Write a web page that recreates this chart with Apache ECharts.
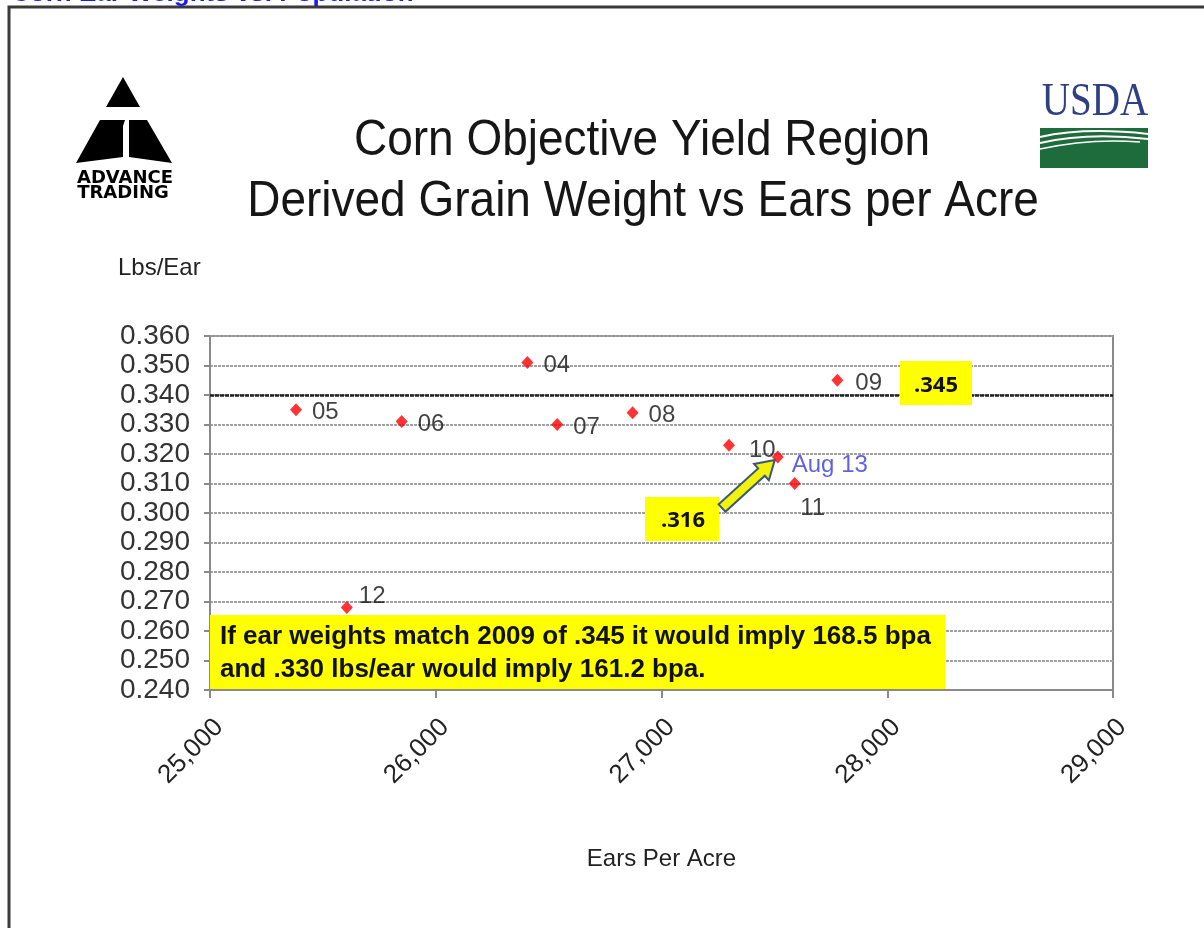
<!DOCTYPE html>
<html>
<head>
<meta charset="utf-8">
<script src="https://cdn.jsdelivr.net/npm/echarts@6/dist/echarts.min.js"></script>
<style>
html,body{margin:0;padding:0;background:#fff;}
#main{width:1204px;height:928px;}
</style>
</head>
<body>
<div id="main"></div>
<script>
// ---- data ----
const pointNames  = ['04', '05', '06', '07', '08', '09', '10', '11', '12', 'Aug 13'];
const earsPerAcre = [26406, 25381, 25849, 26538, 26872, 27779, 27299, 27590, 25606, 27515];
const lbsPerEar   = [0.351, 0.335, 0.331, 0.330, 0.334, 0.345, 0.323, 0.310, 0.268, 0.319];
const xMin = 25000, xMax = 29000, xStep = 1000;
const yMin = 0.240, yMax = 0.360, yStep = 0.010;
const refLine = 0.340;
const titleLines = ['Corn Objective Yield Region', 'Derived Grain Weight vs Ears per Acre'];
const noteText = ['If ear weights match 2009 of .345 it would imply 168.5 bpa', 'and .330 lbs/ear would imply 161.2 bpa.'];
const callout09 = '.345';
const calloutAug = '.316';

// ---- label styles per point ----
const labelStyle = {
  '10':     {offset: [4, 5]},
  '11':     {position: 'bottom', distance: 6, offset: [18, 0]},
  '12':     {offset: [-4, -11]},
  '09':     {offset: [2, 3]},
  'Aug 13': {offset: [-2, 8], color: '#3a3ad6'}
};

const data = pointNames.map((n, i) => {
  const item = {name: n, value: [earsPerAcre[i], lbsPerEar[i]]};
  if (labelStyle[n]) item.label = labelStyle[n];
  return item;
});

const chart = echarts.init(document.getElementById('main'), null, {renderer: 'canvas'});
const FONT = '"Liberation Sans", Arial, sans-serif';

chart.setOption({
  backgroundColor: '#ffffff',
  animation: false,
  grid: {left: 210, right: 91, top: 336, bottom: 238, show: true, borderColor: '#8a8a8a', borderWidth: 2, backgroundColor: 'transparent'},
  xAxis: {
    type: 'value', min: xMin, max: xMax, interval: xStep,
    name: 'Ears Per Acre', nameLocation: 'middle', nameGap: 157,
    nameTextStyle: {fontFamily: FONT, fontSize: 24, color: '#222'},
    axisLine: {show: true, lineStyle: {color: '#8a8a8a', width: 2}},
    axisTick: {show: true, length: 8, lineStyle: {color: '#8a8a8a', width: 2}},
    splitLine: {show: false},
    axisLabel: {
      rotate: 45, margin: 24, verticalAlign: 'top', fontFamily: FONT, fontSize: 26, color: '#222',
      formatter: v => v.toLocaleString('en-US')
    }
  },
  yAxis: {
    type: 'value', min: yMin, max: yMax, interval: yStep,
    axisLine: {show: true, lineStyle: {color: '#8a8a8a', width: 2}},
    axisTick: {show: true, length: 6, lineStyle: {color: '#8a8a8a', width: 2}},
    splitLine: {show: true, lineStyle: {color: '#a0a0a0', width: 2, type: [3, 1]}},
    axisLabel: {margin: 20, fontFamily: FONT, fontSize: 28, color: '#333', formatter: v => v.toFixed(3)}
  },
  series: [{
    type: 'scatter',
    symbol: 'diamond',
    symbolSize: [12, 13],
    itemStyle: {color: '#ff0000'},
    data: data,
    label: {
      show: true, position: 'right', distance: 10, offset: [0, 3],
      formatter: p => p.name,
      fontFamily: FONT, fontSize: 24, color: '#111'
    },
    markLine: {
      silent: true, symbol: 'none', label: {show: false},
      lineStyle: {color: '#222', width: 2.5, type: [4, 1]},
      data: [{yAxis: refLine}]
    },
    z: 5
  }]
});

// ---- annotations and decorations ----
const augIdx = pointNames.indexOf('Aug 13');
const tip = chart.convertToPixel({gridIndex: 0}, [earsPerAcre[augIdx], lbsPerEar[augIdx]]);
const T = [tip[0] - 3, tip[1] + 3];
const S = [722, 508];
const dx = T[0] - S[0], dy = T[1] - S[1];
const L = Math.sqrt(dx * dx + dy * dy);
const u = [dx / L, dy / L], nrm = [-u[1], u[0]];
const H = [T[0] - u[0] * 18, T[1] - u[1] * 18];
const pt = (b, k) => [b[0] + nrm[0] * k, b[1] + nrm[1] * k];
const arrowPts = [pt(S, 5), pt(H, 5), pt(H, 11), T, pt(H, -11), pt(H, -5), pt(S, -5)];

chart.setOption({
  graphic: [
    // outer frame
    {type: 'rect', shape: {x: 9, y: 7, width: 1300, height: 1000}, style: {fill: 'none', stroke: '#3a3a3a', lineWidth: 3}, z: 1},
    {type: 'text', x: 11, y: -6, style: {text: 'Corn Ear Weights vs. Population', fill: '#1a1aee', font: 'bold 26px ' + FONT, textVerticalAlign: 'middle'}, z: 1},
    // titles
    {type: 'text', x: 642, y: 141, scaleY: 1.08, style: {text: titleLines[0], fill: '#161616', font: '46px ' + FONT, textAlign: 'center', textVerticalAlign: 'middle'}, z: 10},
    {type: 'text', x: 643, y: 202, scaleY: 1.08, style: {text: titleLines[1], fill: '#161616', font: '46px ' + FONT, textAlign: 'center', textVerticalAlign: 'middle'}, z: 10},
    {type: 'text', x: 118, y: 268, style: {text: 'Lbs/Ear', fill: '#222', font: '24px ' + FONT, textVerticalAlign: 'middle'}, z: 10},
    // Advance Trading logo
    {type: 'polygon', shape: {points: [[123, 77], [106, 107], [140, 107]]}, style: {fill: '#000'}, z: 10},
    {type: 'polygon', shape: {points: [[100, 120], [125, 120], [123, 126], [123, 157], [76, 163]]}, style: {fill: '#000'}, z: 10},
    {type: 'polygon', shape: {points: [[129, 120], [147, 120], [172, 163], [129, 157]]}, style: {fill: '#000'}, z: 10},
    {type: 'text', x: 125, y: 178, style: {text: 'ADVANCE', fill: '#000', font: 'bold 18px "DejaVu Sans", sans-serif', textAlign: 'center', textVerticalAlign: 'middle'}, z: 10},
    {type: 'text', x: 123, y: 193, style: {text: 'TRADING', fill: '#000', font: 'bold 18px "DejaVu Sans", sans-serif', textAlign: 'center', textVerticalAlign: 'middle'}, z: 10},
    // USDA logo
    {type: 'text', x: 1095, y: 103, scaleX: 0.85, style: {text: 'USDA', fill: '#2e3f86', font: '46px "Liberation Serif", serif', textAlign: 'center', textVerticalAlign: 'middle'}, z: 10},
    {type: 'rect', shape: {x: 1040, y: 128, width: 108, height: 40}, style: {fill: '#1e6b3b'}, z: 10},
    {type: 'bezierCurve', shape: {x1: 1040, y1: 137, cpx1: 1085, cpy1: 127, x2: 1148, y2: 134}, style: {stroke: '#fff', lineWidth: 2, fill: 'none'}, z: 11},
    {type: 'bezierCurve', shape: {x1: 1040, y1: 143, cpx1: 1088, cpy1: 132, x2: 1148, y2: 139}, style: {stroke: '#fff', lineWidth: 2, fill: 'none'}, z: 11},
    {type: 'bezierCurve', shape: {x1: 1040, y1: 149, cpx1: 1090, cpy1: 138, x2: 1140, y2: 142}, style: {stroke: '#fff', lineWidth: 1.5, fill: 'none'}, z: 11},
    // note box
    {type: 'rect', shape: {x: 210, y: 615, width: 735, height: 74}, style: {fill: '#ffff00'}, z: 20},
    {type: 'text', x: 220, y: 653, style: {text: noteText.join('\n'), fill: '#111', font: 'bold 26px "Liberation Sans Narrow", "Arial Narrow", ' + FONT, lineHeight: 33, textVerticalAlign: 'middle'}, z: 21},
    // .345 callout
    {type: 'rect', shape: {x: 900, y: 361, width: 72, height: 44}, style: {fill: '#ffff00'}, z: 20},
    {type: 'text', x: 936, y: 386, style: {text: callout09, fill: '#111', font: 'bold 22px "Open Sans", ' + FONT, textAlign: 'center', textVerticalAlign: 'middle'}, z: 21},
    // .316 callout
    {type: 'rect', shape: {x: 645, y: 497, width: 74, height: 44}, style: {fill: '#ffff00'}, z: 20},
    {type: 'text', x: 683, y: 521, style: {text: calloutAug, fill: '#111', font: 'bold 22px "Open Sans", ' + FONT, textAlign: 'center', textVerticalAlign: 'middle'}, z: 21},
    // arrow
    {type: 'polygon', shape: {points: arrowPts}, style: {fill: '#f2f20a', stroke: '#3b5878', lineWidth: 2}, z: 21}
  ]
});
</script>
</body>
</html>
